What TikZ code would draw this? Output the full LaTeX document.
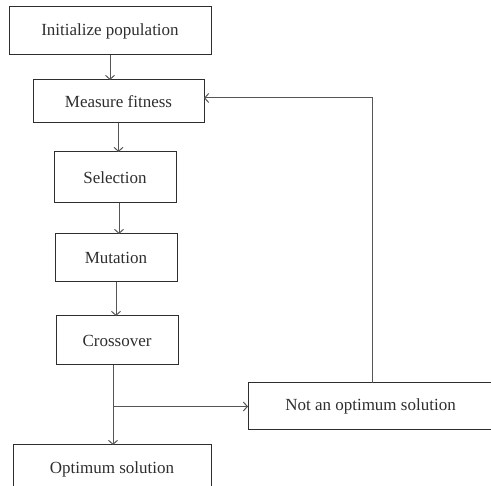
\documentclass[tikz,border=0pt]{standalone}
\usepackage{fontspec}
\setmainfont{Liberation Serif}
\usetikzlibrary{arrows.meta}
\definecolor{linegray}{HTML}{555555}
\definecolor{textgray}{HTML}{2E2E2E}
\begin{document}
\begin{tikzpicture}[x = 1pt, y = -1pt,
        box/.style = {rectangle, draw = textgray, line width = 1pt, text = textgray, font = \fontsize{17}{19}\selectfont, inner sep = 0pt, outer sep = 0pt},
        flow/.style = {-{Straight Barb[length = 4pt, width = 9pt]}, line width = 1pt, linegray}]
            \useasboundingbox (0, 0) rectangle (491, 486);
            \clip (0, 0) rectangle (491, 486);

            \node[box, minimum width = 202pt, minimum height = 48pt] at (110, 31) (init) {Initialize population};
            \node[box, minimum width = 171pt, minimum height = 43pt] at (118.5, 101.5) (fitness) {Measure fitness};
            \node[box, minimum width = 122pt, minimum height = 51pt] at (115, 177.5) (select) {Selection};
            \node[box, minimum width = 122pt, minimum height = 48pt] at (116, 258) (mutate) {Mutation};
            \node[box, minimum width = 122pt, minimum height = 49pt] at (117, 340.5) (cross) {Crossover};
            \node[box, minimum width = 245pt, minimum height = 47pt] at (370.5, 406.5) (notopt) {Not an optimum solution};
            \node[box, minimum width = 198pt, minimum height = 48pt] at (112, 469) (opt) {Optimum solution};

            \coordinate (branch) at ([xshift = -4pt]cross.south |- notopt.west);

            \draw[flow] (init.south) -- (init.south |- fitness.north);
            \draw[flow] (fitness.south) -- (fitness.south |- select.north);
            \draw[flow] ([xshift = 4pt]select.south) -- ([xshift = 4pt]select.south |- mutate.north);
            \draw[flow] (mutate.south) -- (mutate.south |- cross.north);
            \draw[line width = 1pt, linegray] ([xshift = -4pt]cross.south) -- (branch);
            \draw[flow] (branch) -- (branch |- opt.north);
            \draw[flow] (branch) -- (notopt.west);
            \draw[flow] ([xshift = 1.5pt]notopt.north) |- ([yshift = 3.5pt]fitness.east);
        \end{tikzpicture}
\end{document}
